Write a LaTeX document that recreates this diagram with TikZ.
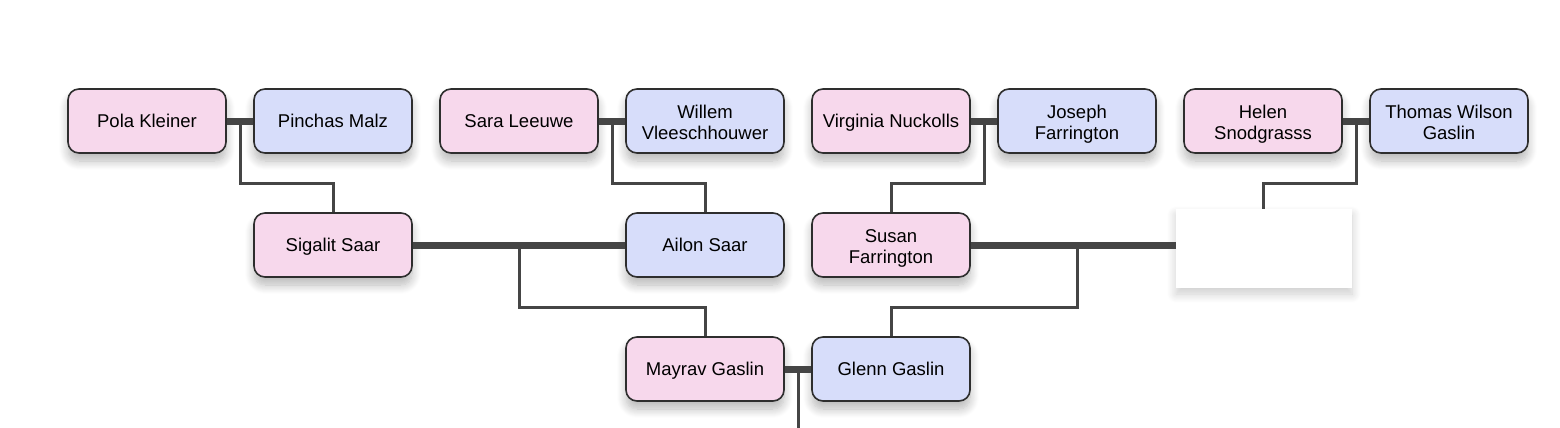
\documentclass[tikz,border=0pt]{standalone}
\usepackage{fontspec}
\setmainfont{Liberation Sans}
\usetikzlibrary{shadows,shadows.blur}
\definecolor{fem}{HTML}{F7D8EC}
\definecolor{mal}{HTML}{D7DDFA}
\definecolor{ln}{HTML}{454545}
\definecolor{bd}{HTML}{2E2E2E}
\newcommand\topstrut{\rule{0pt}{20.7pt}}
\newcommand\botstrut{\rule[-3.9pt]{0pt}{3.9pt}}
\tikzset{
  person/.style={rounded corners=11pt, draw=bd, line width=1.6pt, minimum width=158pt, minimum height=64pt,
    align=center, font=\fontsize{18.5}{21}\selectfont,
    blur shadow={shadow xshift=0pt, shadow yshift=-8pt, shadow blur radius=9pt, shadow blur steps=10, shadow opacity=28}},
  female/.style={person, fill=fem},
  male/.style={person, fill=mal},
  one/.style={text height=16.7pt, text depth=3.9pt},
  blank/.style={fill=white, minimum width=176pt, minimum height=79pt,
    blur shadow={shadow xshift=0pt, shadow yshift=-6pt, shadow blur radius=9pt, shadow blur steps=10, shadow opacity=20}},
  couple/.style={draw=ln, line width=7pt},
  child/.style={draw=ln, line width=3pt}
}
\begin{document}
\begin{tikzpicture}[x=1pt,y=-1pt]
\useasboundingbox (0,0) rectangle (1560,428);
\coordinate (c1) at (240,121);
\coordinate (c2) at (612,121);
\coordinate (c3) at (984,121);
\coordinate (c4) at (1356,121);
\coordinate (c5) at (519,245);
\coordinate (c6) at (1077,245);
\coordinate (c7) at (798,369);
\coordinate (end) at (798,428);

\node[female,one] (pola) at (147,121) {Pola Kleiner};
\node[male,one] (pinchas) at (333,121) {Pinchas Malz};
\node[female,one] (sara) at (519,121) {Sara Leeuwe};
\node[male] (willem) at (705,121) {\topstrut Willem\\Vleeschhouwer\botstrut};
\node[female,one] (virginia) at (891,121) {Virginia Nuckolls};
\node[male] (joseph) at (1077,121) {\topstrut Joseph\\Farrington\botstrut};
\node[female] (helen) at (1263,121) {\topstrut Helen\\Snodgrasss\botstrut};
\node[male] (thomas) at (1449,121) {\topstrut Thomas Wilson\\Gaslin\botstrut};

\node[female,one] (sigalit) at (333,245) {Sigalit Saar};
\node[male,one] (ailon) at (705,245) {Ailon Saar};
\node[female] (susan) at (891,245) {\topstrut Susan\\Farrington\botstrut};
\node[blank] (unknown) at (1264,248.5) {};

\node[female,one] (mayrav) at (705,369) {Mayrav Gaslin};
\node[male,one] (glenn) at (891,369) {Glenn Gaslin};

% couples
\draw[couple] (pola.east) -- (pinchas.west);
\draw[couple] (sara.east) -- (willem.west);
\draw[couple] (virginia.east) -- (joseph.west);
\draw[couple] (helen.east) -- (thomas.west);
\draw[couple] (sigalit.east) -- (ailon.west);
\draw[couple] (susan.east) -- (susan.east -| unknown.west);
\draw[couple] (mayrav.east) -- (glenn.west);

% children
\draw[child] (c1) -- (240,183) -| (sigalit.north);
\draw[child] (c2) -- (612,183) -| (ailon.north);
\draw[child] (c3) -- (984,183) -| (susan.north);
\draw[child] (c4) -- (1356,183) -| (unknown.north -| 1263,0);
\draw[child] (c5) -- (519,307) -| (mayrav.north);
\draw[child] (c6) -- (1077,307) -| (glenn.north);
\draw[child] (c7) -- (end);
\end{tikzpicture}
\end{document}
